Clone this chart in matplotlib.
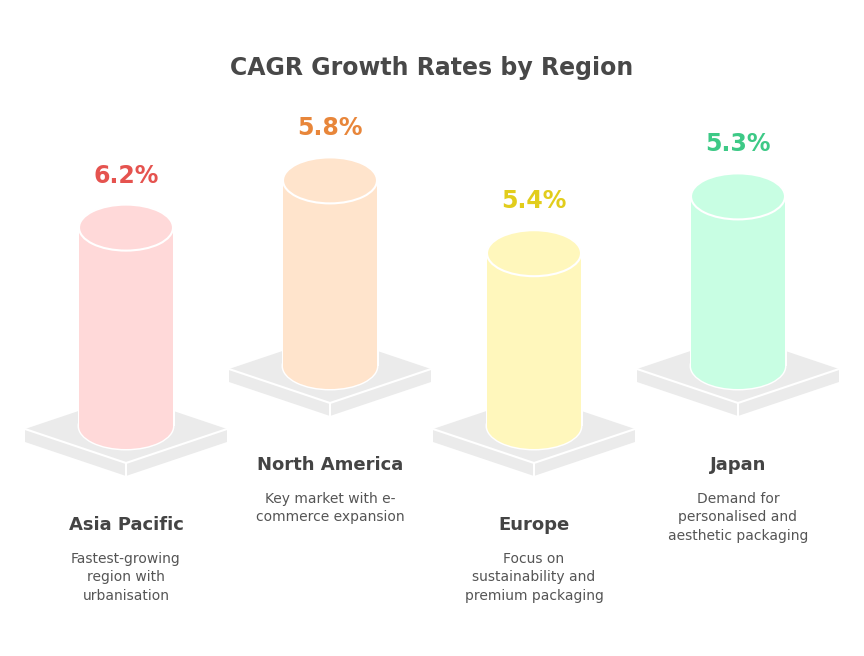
import matplotlib.pyplot as plt
from matplotlib.patches import Ellipse, Rectangle, Polygon

regions = ["Asia Pacific", "North America", "Europe", "Japan"]
cagr = [6.2, 5.8, 5.4, 5.3]
value_labels = ["6.2%", "5.8%", "5.4%", "5.3%"]
notes = [
    "Fastest-growing\nregion with\nurbanisation",
    "Key market with e-\ncommerce expansion",
    "Focus on\nsustainability and\npremium packaging",
    "Demand for\npersonalised and\naesthetic packaging",
]
fills = ["#FFD9D9", "#FFE4CC", "#FFF7BC", "#C8FEE3"]
label_colors = ["#E5534F", "#E8863A", "#E2CD1C", "#3DC986"]

# layout in pixels (y grows downward)
xs = [126, 330, 534, 738]
bases = [426, 366, 426, 366]
px_per_unit = 32
rx, ry = 47, 23
pw, ph, pt = 101, 34, 13

plt.rcParams["font.family"] = ["DejaVu Sans"]
fig = plt.figure(figsize=(8.64, 6.56), dpi=100)
ax = fig.add_axes([0, 0, 1, 1])
ax.set_xlim(0, 864)
ax.set_ylim(656, 0)
ax.axis("off")

ax.text(432, 68, "CAGR Growth Rates by Region", ha="center", va="center",
        fontsize=17, fontweight="bold", color="#484848")

for i in range(4):
    x, b = xs[i], bases[i]
    pc = b + 3
    # platform
    left, right = (x - pw, pc), (x + pw, pc)
    front, back = (x, pc + ph), (x, pc - ph)
    ax.add_patch(Polygon([left, front, (x, pc + ph + pt), (x - pw, pc + pt)],
                         closed=True, fc="#EBEBEB", ec="none"))
    ax.add_patch(Polygon([front, right, (x + pw, pc + pt), (x, pc + ph + pt)],
                         closed=True, fc="#EBEBEB", ec="none"))
    ax.add_patch(Polygon([left, back, right, front], closed=True,
                         fc="#EBEBEB", ec="none"))
    ax.plot([left[0], front[0], right[0]], [left[1], front[1], right[1]],
            color="white", lw=1.5)
    ax.plot([x, x], [pc + ph, pc + ph + pt], color="white", lw=1.5)

    # cylinder
    top = b - cagr[i] * px_per_unit
    ax.add_patch(Ellipse((x, b), 2 * rx + 3, 2 * ry + 3, fc="white", ec="none"))
    ax.add_patch(Ellipse((x, b), 2 * rx, 2 * ry, fc=fills[i], ec="none"))
    ax.add_patch(Rectangle((x - rx - 1.5, top), 2 * rx + 3, b - top,
                           fc="white", ec="none"))
    ax.add_patch(Rectangle((x - rx, top), 2 * rx, b - top, fc=fills[i], ec="none"))
    ax.add_patch(Ellipse((x, top), 2 * rx, 2 * ry, fc=fills[i], ec="white", lw=1.5))

    ax.text(x, top - ry - 29, value_labels[i], ha="center", va="center",
            fontsize=17, fontweight="bold", color=label_colors[i])

    name_y = b + 99
    ax.text(x, name_y, regions[i], ha="center", va="center",
            fontsize=13, fontweight="bold", color="#444444")
    ax.text(x, name_y + 27, notes[i], ha="center", va="top",
            fontsize=10, color="#555555", linespacing=1.4)

fig.savefig("out.png", dpi=100, facecolor="white")
